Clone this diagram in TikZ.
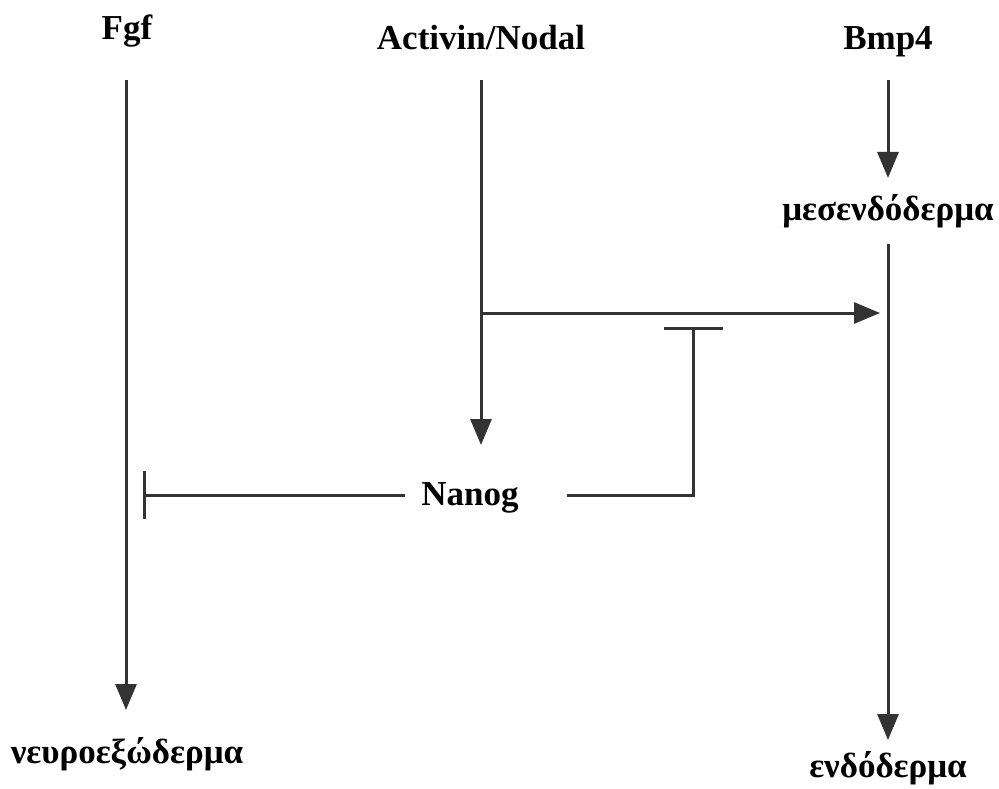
\documentclass[tikz,border=0pt]{standalone}
\usepackage{fontspec}
\setmainfont{Liberation Serif}
\usetikzlibrary{arrows.meta}
\begin{document}
\begin{tikzpicture}[x=1pt,y=-1pt,
  lbl/.style={font=\fontsize{35}{40}\selectfont\bfseries, inner sep=0pt, anchor=base},
  ln/.style={line width=3pt, draw=black!80},
  arr/.style={ln,-{Triangle[width=21pt,length=26pt]}},
  tbar/.style={ln,-{Bar[width=#1,line width=3pt]}}]
\useasboundingbox (0,0) rectangle (999,789);
% labels
\node[lbl] (fgf) at (127,40) {Fgf};
\node[lbl] (act) at (481,50) {Activin/Nodal};
\node[lbl] (bmp) at (888,50) {Bmp4};
\node[lbl] (mes) at (888,220) {μεσενδόδερμα};
\node[lbl] (nanog) at (470,505) {Nanog};
\node[lbl] (neuro) at (127,763) {νευροεξώδερμα};
\node[lbl] (endo) at (888,777) {ενδόδερμα};
% coordinates
\coordinate (fgfTop) at (126,80);
\coordinate (fgfTip) at (126,710);
\coordinate (actTop) at (481,80);
\coordinate (actTip) at (481,445);
\coordinate (branch) at (481,313);
\coordinate (bmpIn) at (880,313);
\coordinate (bmpTop) at (888,80);
\coordinate (bmpTip) at (888,178);
\coordinate (mesTop) at (888,244);
\coordinate (mesTip) at (888,740);
\coordinate (nL) at (405,495);
\coordinate (nLend) at (143,495);
\coordinate (nR) at (567,495);
\coordinate (nCorner) at (693,495);
\coordinate (nRend) at (693,327);
% connectors
\draw[arr] (fgfTop) -- (fgfTip);
\draw[arr] (actTop) -- (actTip);
\draw[arr] (branch) -- (bmpIn);
\draw[arr] (bmpTop) -- (bmpTip);
\draw[arr] (mesTop) -- (mesTip);
\draw[tbar=48pt] (nL) -- (nLend);
\draw[tbar=59pt] (nR) -- (nCorner) -- (nRend);
\end{tikzpicture}
\end{document}
